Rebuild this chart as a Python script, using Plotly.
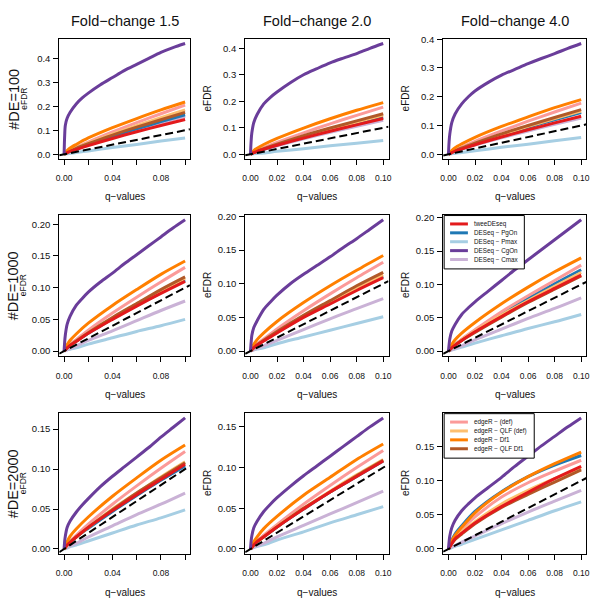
import plotly.graph_objects as go

# ---------------- data ----------------
Q = [0, 0.0025, 0.005, 0.01, 0.02, 0.04, 0.06, 0.08, 0.10]
Q_FINE = [0, 0.0005, 0.001, 0.0025, 0.005, 0.01, 0.015, 0.02, 0.03, 0.04,
          0.05, 0.06, 0.07, 0.08, 0.09, 0.10]

METHODS = ["tweeDEseq", "DESeq − PgOn", "DESeq − Pmax", "DESeq − CgOn", "DESeq − Cmax",
           "edgeR − (def)", "edgeR − QLF (def)", "edgeR − Df1", "edgeR − QLF Df1"]
COLORS = ["#E31A1C", "#1F78B4", "#A6CEE3", "#6A3D9A", "#CAB2D6",
          "#FB9A99", "#FDBF6F", "#FF7F00", "#B15928"]
CGON = 3  # DESeq − CgOn is sampled on Q_FINE (steep start)

FOLD_CHANGES = ["Fold−change 1.5", "Fold−change 2.0", "Fold−change 4.0"]
N_DE = ["#DE=100", "#DE=1000", "#DE=2000"]

X_TICKS = [0, 0.02, 0.04, 0.06, 0.08, 0.10]
X_LABELS_FULL = ["0.00", "0.02", "0.04", "0.06", "0.08", "0.10"]
X_LABELS_SPARSE = ["0.00", "", "0.04", "", "0.08", ""]

# eFDR per panel, series in METHODS order
FC15_DE100 = [
    [0, .007, .012, .020, .036, .066, .094, .120, .145],
    [0, .007, .013, .023, .041, .075, .106, .136, .165],
    [0, .002, .004, .007, .014, .028, .041, .055, .068],
    [0, .08, .12, .15, .175, .21, .235, .255, .29, .32, .35, .375, .40, .425, .445, .462],
    [0, .007, .013, .022, .040, .072, .102, .130, .158],
    [0, .009, .016, .029, .051, .093, .132, .169, .205],
    [0, .008, .015, .026, .046, .084, .119, .153, .185],
    [0, .015, .026, .041, .068, .111, .149, .185, .218],
    [0, .008, .014, .025, .044, .080, .113, .144, .175],
]
FC20_DE100 = [
    [0, .006, .011, .019, .034, .061, .087, .111, .135],
    [0, .006, .011, .020, .035, .064, .090, .116, .140],
    [0, .002, .003, .005, .011, .021, .032, .042, .052],
    [0, .05, .08, .12, .15, .19, .215, .235, .27, .30, .323, .345, .363, .38, .40, .418],
    [0, .006, .010, .018, .032, .058, .083, .106, .128],
    [0, .008, .014, .025, .045, .081, .115, .147, .178],
    [0, .007, .012, .021, .037, .067, .095, .122, .148],
    [0, .014, .023, .037, .060, .099, .134, .166, .195],
    [0, .007, .012, .021, .038, .070, .099, .126, .153],
]
FC40_DE100 = [
    [0, .006, .011, .018, .033, .060, .085, .109, .132],
    [0, .007, .012, .020, .036, .066, .094, .120, .145],
    [0, .002, .003, .006, .012, .024, .035, .047, .058],
    [0, .045, .07, .11, .14, .175, .20, .22, .25, .275, .295, .315, .333, .35, .368, .385],
    [0, .006, .010, .018, .032, .057, .081, .104, .126],
    [0, .008, .014, .025, .045, .081, .115, .147, .178],
    [0, .007, .012, .021, .038, .068, .097, .124, .150],
    [0, .013, .023, .036, .059, .097, .130, .162, .190],
    [0, .007, .012, .022, .039, .071, .100, .128, .155],
]
FC15_DE1000 = [
    [0, .005, .009, .015, .028, .050, .071, .091, .110],
    [0, .005, .009, .016, .028, .051, .072, .092, .112],
    [0, .002, .003, .005, .011, .021, .031, .040, .050],
    [0, .015, .025, .042, .055, .072, .083, .093, .109, .123, .138, .152, .166, .18, .194, .207],
    [0, .002, .004, .008, .017, .032, .048, .064, .079],
    [0, .006, .011, .018, .033, .060, .085, .109, .132],
    [0, .005, .009, .016, .029, .052, .074, .095, .115],
    [0, .010, .017, .027, .044, .072, .097, .121, .142],
    [0, .005, .009, .016, .029, .053, .075, .097, .117],
]
FC20_DE1000 = [
    [0, .005, .009, .015, .027, .050, .070, .090, .109],
    [0, .005, .009, .016, .028, .051, .072, .092, .111],
    [0, .002, .003, .005, .011, .021, .031, .041, .051],
    [0, .013, .023, .035, .045, .062, .073, .083, .10, .114, .127, .14, .154, .167, .181, .195],
    [0, .002, .004, .008, .016, .032, .048, .063, .078],
    [0, .006, .011, .018, .033, .060, .085, .109, .132],
    [0, .005, .009, .016, .028, .051, .073, .093, .113],
    [0, .010, .017, .027, .044, .072, .097, .120, .142],
    [0, .005, .009, .016, .029, .053, .075, .097, .117],
]
FC40_DE1000 = [
    [0, .005, .009, .016, .029, .052, .074, .094, .114],
    [0, .005, .010, .017, .031, .056, .079, .101, .122],
    [0, .002, .003, .006, .012, .023, .034, .044, .055],
    [0, .010, .018, .030, .040, .055, .065, .074, .09, .106, .122, .137, .152, .167, .182, .197],
    [0, .002, .004, .008, .017, .033, .049, .064, .080],
    [0, .006, .010, .018, .032, .059, .083, .106, .129],
    [0, .005, .009, .017, .030, .054, .076, .097, .118],
    [0, .010, .017, .027, .043, .071, .096, .119, .140],
    [0, .005, .009, .016, .028, .051, .073, .093, .113],
]
FC15_DE2000 = [
    [0, .005, .008, .015, .027, .048, .068, .087, .106],
    [0, .005, .008, .015, .026, .047, .067, .086, .104],
    [0, .001, .003, .005, .010, .020, .030, .039, .049],
    [0, .010, .016, .027, .035, .046, .055, .063, .078, .091, .103, .115, .127, .14, .152, .164],
    [0, .002, .004, .007, .015, .029, .043, .056, .070],
    [0, .005, .010, .017, .031, .056, .079, .101, .122],
    [0, .005, .009, .015, .027, .050, .070, .090, .109],
    [0, .009, .016, .025, .040, .066, .089, .111, .130],
    [0, .005, .009, .015, .027, .049, .070, .089, .108],
]
FC20_DE2000 = [
    [0, .005, .009, .015, .027, .049, .070, .089, .108],
    [0, .005, .009, .015, .027, .049, .070, .089, .108],
    [0, .002, .003, .005, .011, .021, .032, .042, .052],
    [0, .010, .016, .026, .034, .046, .055, .063, .077, .09, .102, .114, .126, .138, .15, .161],
    [0, .002, .004, .007, .015, .029, .043, .057, .071],
    [0, .005, .010, .017, .030, .055, .078, .100, .121],
    [0, .005, .009, .015, .028, .050, .071, .091, .110],
    [0, .009, .015, .025, .040, .066, .088, .110, .129],
    [0, .005, .009, .015, .027, .050, .070, .090, .109],
]
FC40_DE2000 = [
    [0, .008, .015, .023, .038, .062, .083, .103, .121],
    [0, .013, .022, .034, .055, .084, .106, .123, .137],
    [0, .002, .004, .007, .014, .028, .042, .056, .069],
    [0, .011, .019, .031, .042, .056, .066, .075, .09, .105, .121, .136, .151, .165, .179, .192],
    [0, .003, .005, .010, .019, .037, .054, .070, .086],
    [0, .011, .018, .029, .047, .076, .097, .114, .130],
    [0, .009, .015, .025, .040, .066, .086, .103, .118],
    [0, .012, .020, .032, .053, .083, .106, .125, .142],
    [0, .008, .014, .022, .037, .061, .080, .098, .116],
]

PANELS = [
    [FC15_DE100, FC20_DE100, FC40_DE100],
    [FC15_DE1000, FC20_DE1000, FC40_DE1000],
    [FC15_DE2000, FC20_DE2000, FC40_DE2000],
]

# legends: (row, col, method indices, box width px)
LEGENDS = [(1, 2, [0, 1, 2, 3, 4], 82), (2, 2, [5, 6, 7, 8], 92)]

# ---------------- layout constants ----------------
W = H = 600
XDOM = [[0.0947, 0.3147], [0.4077, 0.6490], [0.7410, 0.9823]]
YDOM = [[0.7425, 0.9442], [0.4092, 0.6483], [0.0755, 0.3142]]
DRAW_ORDER = [2, 4, 1, 5, 6, 8, 7, 0, 3]
FONT = "Liberation Sans, Arial, Helvetica, sans-serif"
TXT = "#111111"

fig = go.Figure()
layout = dict(width=W, height=H, margin=dict(l=0, r=0, t=0, b=0),
              paper_bgcolor="white", plot_bgcolor="white",
              font=dict(family=FONT, color=TXT), showlegend=False)
annotations = []
shapes = []

span = Q[-1] - Q[0]
xlo, xhi = Q[0] - 0.04 * span, Q[-1] + 0.04 * span

for r in range(3):
    for c in range(3):
        k = r * 3 + c + 1
        xa = "x" if k == 1 else f"x{k}"
        ya = "y" if k == 1 else f"y{k}"
        data = PANELS[r][c]
        for i in DRAW_ORDER:
            xs = Q_FINE if i == CGON else Q
            fig.add_trace(go.Scatter(x=xs, y=data[i], mode="lines", name=METHODS[i],
                                     line=dict(color=COLORS[i], width=3,
                                               shape="spline", smoothing=0.8),
                                     xaxis=xa, yaxis=ya, hoverinfo="skip"))
        fig.add_trace(go.Scatter(x=[xlo, xhi], y=[xlo, xhi], mode="lines",
                                 line=dict(color="black", width=2, dash="8px,4px"),
                                 xaxis=xa, yaxis=ya, hoverinfo="skip"))
        ymax = max(max(s) for s in data)
        common = dict(showline=True, linecolor="black", linewidth=1, mirror=True,
                      ticks="outside", ticklen=5, tickcolor="black", tickwidth=1,
                      showgrid=False, zeroline=False, fixedrange=True)
        layout["xaxis" if k == 1 else f"xaxis{k}"] = dict(
            domain=XDOM[c], range=[xlo, xhi], anchor=ya,
            tickvals=X_TICKS, ticktext=(X_LABELS_SPARSE if c == 0 else X_LABELS_FULL),
            tickfont=dict(size=8.5, color=TXT), ticklabelstandoff=6, **common)
        if r == 0:
            yt = dict(dtick=0.1, tick0=0, tickformat=".1f")
        else:
            yt = dict(dtick=0.05, tick0=0, tickformat=".2f")
        layout["yaxis" if k == 1 else f"yaxis{k}"] = dict(
            domain=YDOM[r], range=[-0.04 * ymax, 1.04 * ymax], anchor=xa,
            tickfont=dict(size=9.5, color=TXT), ticklabelstandoff=1, **yt, **common)

        x0p = XDOM[c][0] * W
        ybot = (1 - YDOM[r][0]) * H
        xc = (XDOM[c][0] + XDOM[c][1]) / 2
        yc = (YDOM[r][0] + YDOM[r][1]) / 2
        annotations.append(dict(text="q−values", x=xc, y=1 - (ybot + 38.5) / H,
                                xref="paper", yref="paper", showarrow=False,
                                xanchor="center", yanchor="middle",
                                font=dict(size=10, color=TXT)))
        if c == 0:
            annotations.append(dict(text="eFDR", x=21 / W, y=yc, xref="paper", yref="paper",
                                    showarrow=False, textangle=-90, xanchor="center",
                                    yanchor="middle", font=dict(size=8.5, color=TXT)))
        else:
            annotations.append(dict(text="eFDR", x=(x0p - 38) / W, y=yc, xref="paper",
                                    yref="paper", showarrow=False, textangle=-90,
                                    xanchor="center", yanchor="middle",
                                    font=dict(size=10, color=TXT)))
        if r == 0:
            annotations.append(dict(text=FOLD_CHANGES[c], x=xc, y=1 - 15 / H,
                                    xref="paper", yref="paper", showarrow=False,
                                    xanchor="center", yanchor="middle",
                                    font=dict(size=14.5, color=TXT)))
    annotations.append(dict(text=N_DE[r], x=11 / W, y=(YDOM[r][0] + YDOM[r][1]) / 2,
                            xref="paper", yref="paper", showarrow=False, textangle=-90,
                            xanchor="center", yanchor="middle",
                            font=dict(size=14.5, color=TXT)))

# R-style legends (white-filled box drawn over the curves)
for (r, c, idxs, wpx) in LEGENDS:
    X0 = XDOM[c][0] * W
    Y0 = (1 - YDOM[r][1]) * H
    n = len(idxs)
    hpx = 9.5 + 9 * (n - 1) + 9.5
    shapes.append(dict(type="rect", xref="paper", yref="paper",
                       x0=(X0 + 1) / W, x1=(X0 + wpx) / W,
                       y0=1 - (Y0 + 1) / H, y1=1 - (Y0 + hpx) / H,
                       line=dict(color="black", width=1), fillcolor="white", layer="above"))
    for j, i in enumerate(idxs):
        yy = 1 - (Y0 + 9.5 + 9 * j) / H
        shapes.append(dict(type="line", xref="paper", yref="paper",
                           x0=(X0 + 7) / W, x1=(X0 + 25) / W, y0=yy, y1=yy,
                           line=dict(color=COLORS[i], width=3), layer="above"))
        annotations.append(dict(text=METHODS[i], x=(X0 + 29.5) / W, y=yy,
                                xref="paper", yref="paper", showarrow=False,
                                xanchor="left", yanchor="middle",
                                font=dict(size=6.3, color=TXT)))

layout["annotations"] = annotations
layout["shapes"] = shapes
fig.update_layout(**layout)
fig.write_html("out.html", config={"displayModeBar": False},
               post_script="document.body.style.margin='0';document.body.style.padding='0';")
